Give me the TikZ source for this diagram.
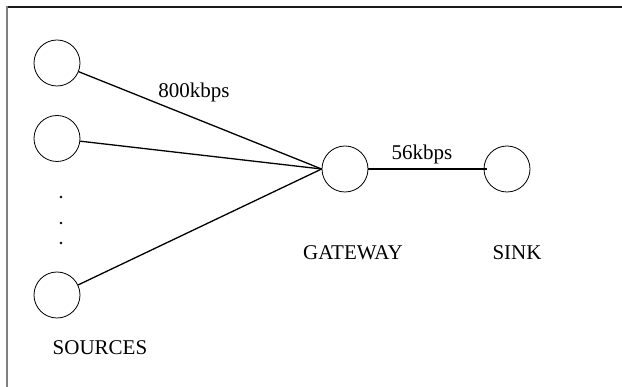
\documentclass[tikz,border=0pt]{standalone}
\usepackage{fontspec}
\setmainfont{Liberation Serif}
\begin{document}
\begin{tikzpicture}[x=1pt,y=-1pt,
  station/.style={circle,draw,line width=0.8pt,minimum size=46pt,inner sep=0pt},
  link/.style={line width=1.3pt},
  lbl/.style={font=\fontsize{21}{24}\selectfont,anchor=base,inner sep=0pt},
  dotmark/.style={circle,fill,inner sep=0pt,minimum size=2.6pt}]
\useasboundingbox (0,0) rectangle (622,387);
\fill[white] (0,0) rectangle (622,387);
% frame
\draw[line width=2pt,black!90] (6,7) -- (622,7);
\draw[line width=2pt,black!50] (7,6) -- (7,387);
% nodes
\node[station] (s1) at (57,63) {};
\node[station] (s2) at (57,138.5) {};
\node[station] (s3) at (57,295) {};
\node[station] (gw) at (345,169) {};
\node[station] (sink) at (507,169) {};
% dots
\node[dotmark] (d1) at (61,197) {};
\node[dotmark] (d2) at (61,223) {};
\node[dotmark] (d3) at (61,243) {};
% connectors
\draw[link] (s1) -- (gw.west);
\draw[link] (s2) -- (gw.west);
\draw[link] (s3) -- (gw.west);
\draw[link] (gw.east) -- ([xshift=3pt]sink.west);
% labels
\node[lbl] (l800) at (194,98) {800kbps};
\node[lbl] (l56) at (422,160) {56kbps};
\node[lbl] (lgw) at (353,260) {GATEWAY};
\node[lbl] (lsink) at (517,260) {SINK};
\node[lbl] (lsrc) at (100,355) {SOURCES};
\end{tikzpicture}
\end{document}
